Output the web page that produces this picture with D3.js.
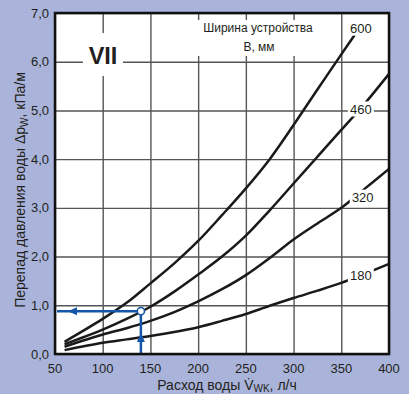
<!DOCTYPE html>
<html><head><meta charset="utf-8">
<script src="https://cdn.jsdelivr.net/npm/d3@7"></script>
<style>
html,body{margin:0;padding:0;background:#aab4da;}
svg{display:block;font-family:"Liberation Sans",Arial,sans-serif;}
</style></head>
<body><svg id="c" width="409" height="394"></svg>
<script>
// ---- data ----
const widthNames = ["180", "320", "460", "600"];
const flow = [60, 100, 125, 150, 175, 200, 225, 250, 275, 300, 325, 350, 375, 400];
const flow600 = [60, 100, 125, 150, 175, 200, 225, 250, 275, 300, 325, 350, 364];
const drop180 = [0.08, 0.23, 0.30, 0.37, 0.45, 0.55, 0.68, 0.82, 0.99, 1.15, 1.30, 1.46, 1.65, 1.85];
const drop320 = [0.15, 0.40, 0.53, 0.68, 0.86, 1.08, 1.33, 1.62, 1.97, 2.35, 2.68, 3.00, 3.40, 3.80];
const drop460 = [0.20, 0.50, 0.72, 0.97, 1.28, 1.63, 2.00, 2.43, 2.95, 3.50, 4.05, 4.60, 5.15, 5.75];
const drop600 = [0.25, 0.72, 1.05, 1.45, 1.86, 2.32, 2.85, 3.40, 4.00, 4.70, 5.43, 6.15, 6.55];
const labelFlow = [370.5, 372.5, 370.5, 370.5];
const labelDrop = [1.62, 3.22, 5.03, 6.69];
const xTicks = [50, 100, 150, 200, 250, 300, 350, 400];
const yTicks = [0, 1, 2, 3, 4, 5, 6, 7];
const markerFlow = 140, markerDrop = 0.88;
const legendLines = ["Ширина устройства", "В, мм"];
const panelLabel = "VII";

const series = [
  {name: widthNames[0], x: flow, y: drop180},
  {name: widthNames[1], x: flow, y: drop320},
  {name: widthNames[2], x: flow, y: drop460},
  {name: widthNames[3], x: flow600, y: drop600}
];

// ---- layout ----
const L = 55, R = 389, T = 13, B = 354;
const x = d3.scaleLinear().domain([50, 400]).range([L, R]);
const y = d3.scaleLinear().domain([0, 7]).range([B, T]);
const svg = d3.select("#c");
const ink = "#231f20", blue = "#1656a8";

svg.append("rect").attr("x", L).attr("y", T).attr("width", R - L).attr("height", B - T).attr("fill", "#fff");

// grid
const grid = svg.append("g");
grid.append("g").attr("transform", `translate(0,${B})`)
  .call(d3.axisBottom(x).tickValues(xTicks).tickSize(-(B - T)).tickFormat(""))
  .call(g => g.select(".domain").remove())
  .call(g => g.selectAll("line").attr("stroke", "#555").attr("stroke-width", 1.4));
grid.append("g").attr("transform", `translate(${L},0)`)
  .call(d3.axisLeft(y).tickValues(yTicks).tickSize(-(R - L)).tickFormat(""))
  .call(g => g.select(".domain").remove())
  .call(g => g.selectAll("line").attr("stroke", "#555").attr("stroke-width", 1.4));

// legend box & title
svg.append("rect").attr("x", 192).attr("y", 20).attr("width", 143).attr("height", 36).attr("fill", "#fff");
svg.append("text").attr("x", 258).attr("y", 32).attr("text-anchor", "middle").attr("font-size", 12).attr("fill", ink).text(legendLines[0]);
svg.append("text").attr("x", 259).attr("y", 51).attr("text-anchor", "middle").attr("font-size", 12).attr("fill", ink).text(legendLines[1]);

// panel label
svg.append("rect").attr("x", 83).attr("y", 33).attr("width", 40).attr("height", 43).attr("fill", "#fff");
svg.append("text").attr("x", 103).attr("y", 64).attr("text-anchor", "middle").attr("font-size", 23.5)
  .attr("font-weight", "bold").attr("fill", ink).text(panelLabel);

// curves
const line = d3.line().x(d => x(d[0])).y(d => y(d[1])).curve(d3.curveCatmullRom.alpha(0.5));
svg.append("g").selectAll("path").data(series).join("path")
  .attr("d", s => line(s.x.map((v, i) => [v, s.y[i]])))
  .attr("fill", "none").attr("stroke", "#1a1a1a").attr("stroke-width", 2.5);

// curve labels
const lg = svg.append("g");
series.forEach((s, i) => {
  const cx = x(labelFlow[i]), cy = y(labelDrop[i]);
  lg.append("rect").attr("x", cx - 13).attr("y", cy - 7.5).attr("width", 26).attr("height", 15).attr("fill", "#fff");
  lg.append("text").attr("x", cx).attr("y", cy + 4.6).attr("text-anchor", "middle")
    .attr("font-size", 13).attr("fill", ink).text(s.name);
});

// blue reading marker
const mx = x(markerFlow), my = y(markerDrop);
svg.append("line").attr("x1", mx).attr("x2", mx).attr("y1", B).attr("y2", my + 3.5).attr("stroke", blue).attr("stroke-width", 2.5);
svg.append("line").attr("x1", L + 2).attr("x2", mx - 3.5).attr("y1", my).attr("y2", my).attr("stroke", blue).attr("stroke-width", 2.5);
svg.append("path").attr("d", `M${mx},${B - 21} l-4,9 l8,0 z`).attr("fill", blue);
svg.append("path").attr("d", `M${L + 13},${my} l9,-4 l0,8 z`).attr("fill", blue);
svg.append("circle").attr("cx", mx).attr("cy", my).attr("r", 3.6).attr("fill", "#fff").attr("stroke", blue).attr("stroke-width", 1.6);

// frame
svg.append("rect").attr("x", L).attr("y", T).attr("width", R - L).attr("height", B - T)
  .attr("fill", "none").attr("stroke", "#111").attr("stroke-width", 2.5);

// tick labels
const fmt = d => d3.format(".1f")(d).replace(".", ",");
svg.append("g").selectAll("text").data(yTicks).join("text")
  .attr("x", 49).attr("y", d => y(d) + 4.5).attr("text-anchor", "end")
  .attr("font-size", 13).attr("fill", ink).text(fmt);
svg.append("g").selectAll("text").data(xTicks).join("text")
  .attr("x", d => x(d)).attr("y", 373).attr("text-anchor", "middle")
  .attr("font-size", 13).attr("fill", ink).text(d => d);

// axis titles
const yt = svg.append("text").attr("transform", "translate(25,190) rotate(-90)")
  .attr("text-anchor", "middle").attr("font-size", 14).attr("fill", ink);
yt.append("tspan").text("Перепад давления воды Δp");
yt.append("tspan").attr("font-size", 10).attr("dy", 3).text("W");
yt.append("tspan").attr("dy", -3).text(", кПа/м");

const xt = svg.append("text").attr("x", 227).attr("y", 390)
  .attr("text-anchor", "middle").attr("font-size", 14).attr("fill", ink);
xt.append("tspan").text("Расход воды V\u0307");
xt.append("tspan").attr("font-size", 10).attr("dy", 1.5).text("WK");
xt.append("tspan").attr("dy", -1.5).text(", л/ч");
</script></body></html>
